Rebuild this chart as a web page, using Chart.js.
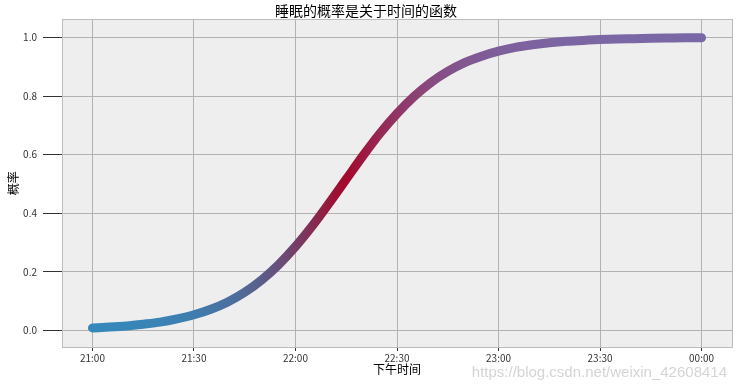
<!DOCTYPE html>
<html>
<head>
<meta charset="utf-8">
<script src="https://cdn.jsdelivr.net/npm/chart.js@4/dist/chart.umd.min.js"></script>
<style>
    html, body { margin: 0; padding: 0; background: #fff; }
    canvas { display: block; }
</style>
</head>
<body>
<canvas id="myChart" width="737" height="391"></canvas>
<script>
// minutes after 21:00
const minutes = [0, 5, 10, 15, 20, 25, 30, 35, 40, 45, 50, 55, 60, 65, 70, 75, 80, 85, 90,
    95, 100, 105, 110, 115, 120, 125, 130, 135, 140, 145, 150, 155, 160, 165, 170, 175, 180];
const prob = [0.008, 0.011, 0.015, 0.021, 0.028, 0.039, 0.053, 0.072, 0.097, 0.130, 0.172, 0.224,
    0.286, 0.357, 0.435, 0.516, 0.597, 0.673, 0.740, 0.798, 0.846, 0.884, 0.914, 0.936, 0.953,
    0.966, 0.975, 0.982, 0.987, 0.990, 0.993, 0.995, 0.996, 0.997, 0.998, 0.999, 0.999];
const xTicks = [0, 30, 60, 90, 120, 150, 180];
const xTickLabels = ['21:00', '21:30', '22:00', '22:30', '23:00', '23:30', '00:00'];
const yTicks = [0, 0.2, 0.4, 0.6, 0.8, 1.0];

const blue = [52, 138, 189];
const red = [166, 6, 40];
const purple = [122, 104, 166];

function probColor(p) {
    let a, b, f;
    if (p < 0.5) { a = blue; b = red; f = p / 0.5; }
    else { a = red; b = purple; f = (p - 0.5) / 0.5; }
    const c = a.map((v, i) => Math.round(v + (b[i] - v) * f));
    return 'rgb(' + c.join(',') + ')';
}

function lineGradient(context) {
    const chart = context.chart;
    const area = chart.chartArea;
    if (!area) return probColor(0);
    const xs = chart.scales.x;
    const g = chart.ctx.createLinearGradient(area.left, 0, area.right, 0);
    for (let i = 0; i < minutes.length; i++) {
        let pos = (xs.getPixelForValue(minutes[i]) - area.left) / (area.right - area.left);
        pos = Math.min(1, Math.max(0, pos));
        g.addColorStop(pos, probColor(prob[i]));
    }
    return g;
}

const frame = {
    id: 'frame',
    beforeDraw: (chart) => {
        const { ctx, chartArea } = chart;
        ctx.save();
        ctx.fillStyle = '#ffffff';
        ctx.fillRect(0, 0, chart.width, chart.height);
        ctx.fillStyle = '#eeeeee';
        ctx.fillRect(chartArea.left, chartArea.top, chartArea.right - chartArea.left, chartArea.bottom - chartArea.top);
        ctx.restore();
    },
    afterDraw: (chart) => {
        const { ctx, chartArea } = chart;
        ctx.save();
        ctx.strokeStyle = '#bcbcbc';
        ctx.lineWidth = 1;
        ctx.strokeRect(Math.round(chartArea.left) + 0.5, Math.round(chartArea.top) + 0.5,
            Math.round(chartArea.right - chartArea.left), Math.round(chartArea.bottom - chartArea.top));
        // watermark
        ctx.font = '15px "Liberation Sans", Arial, sans-serif';
        ctx.fillStyle = 'rgba(205, 205, 205, 0.85)';
        ctx.textAlign = 'right';
        ctx.textBaseline = 'alphabetic';
        ctx.fillText('https://blog.csdn.net/weixin_42608414', 727, 377);
        ctx.restore();
    }
};

const points = minutes.map((m, i) => ({ x: m, y: prob[i] }));
const cjk = '"Noto Sans CJK SC", "Noto Sans", sans-serif';

const ctx = document.getElementById('myChart').getContext('2d');
const chart = new Chart(ctx, {
    type: 'scatter',
    data: {
        datasets: [{
            data: points,
            showLine: true,
            borderColor: lineGradient,
            borderWidth: 9,
            borderCapStyle: 'round',
            borderJoinStyle: 'round',
            cubicInterpolationMode: 'monotone',
            pointRadius: 0,
            pointHoverRadius: 0,
        }]
    },
    options: {
        responsive: false,
        animation: false,
        events: [],
        layout: {
            padding: { left: 0, right: 5, top: 0, bottom: 0 },
        },
        plugins: {
            legend: false,
            tooltip: { enabled: false },
            title: {
                display: true,
                text: '睡眠的概率是关于时间的函数',
                color: '#000',
                font: { family: cjk, size: 14, weight: 'normal', lineHeight: 1.2 },
                padding: { top: 2, bottom: 0.5 },
            },
        },
        scales: {
            x: {
                type: 'linear',
                min: -9,
                max: 189,
                z: 1,
                afterBuildTicks: (scale) => { scale.ticks = xTicks.map(v => ({ value: v })); },
                afterFit: (scale) => { scale.height = 44; },
                grid: {
                    color: '#b2b2b2',
                    tickColor: '#333333',
                    tickLength: 4,
                },
                border: { display: false },
                ticks: {
                    padding: 1,
                    color: '#333333',
                    maxRotation: 0,
                    font: { family: cjk, size: 10 },
                    callback: (v) => xTickLabels[xTicks.indexOf(v)],
                },
                title: {
                    display: true,
                    text: '下午时间',
                    color: '#000',
                    font: { family: cjk, size: 12, lineHeight: 1.2 },
                    padding: { top: 0, bottom: 14 },
                },
            },
            y: {
                min: -0.057,
                max: 1.062,
                z: 1,
                afterBuildTicks: (scale) => { scale.ticks = yTicks.map(v => ({ value: v })); },
                afterFit: (scale) => { scale.width = 62; },
                grid: {
                    color: '#b2b2b2',
                    tickColor: '#333333',
                    tickLength: 19,
                },
                border: { display: false },
                ticks: {
                    padding: 6,
                    color: '#333333',
                    font: { family: cjk, size: 10 },
                    callback: (v) => v.toFixed(1),
                },
                title: {
                    display: true,
                    text: '概率',
                    color: '#000',
                    font: { family: cjk, size: 12, lineHeight: 1.2 },
                    padding: { top: 6, bottom: 0 },
                },
            },
        },
    },
    plugins: [frame],
});
</script>
</body>
</html>
